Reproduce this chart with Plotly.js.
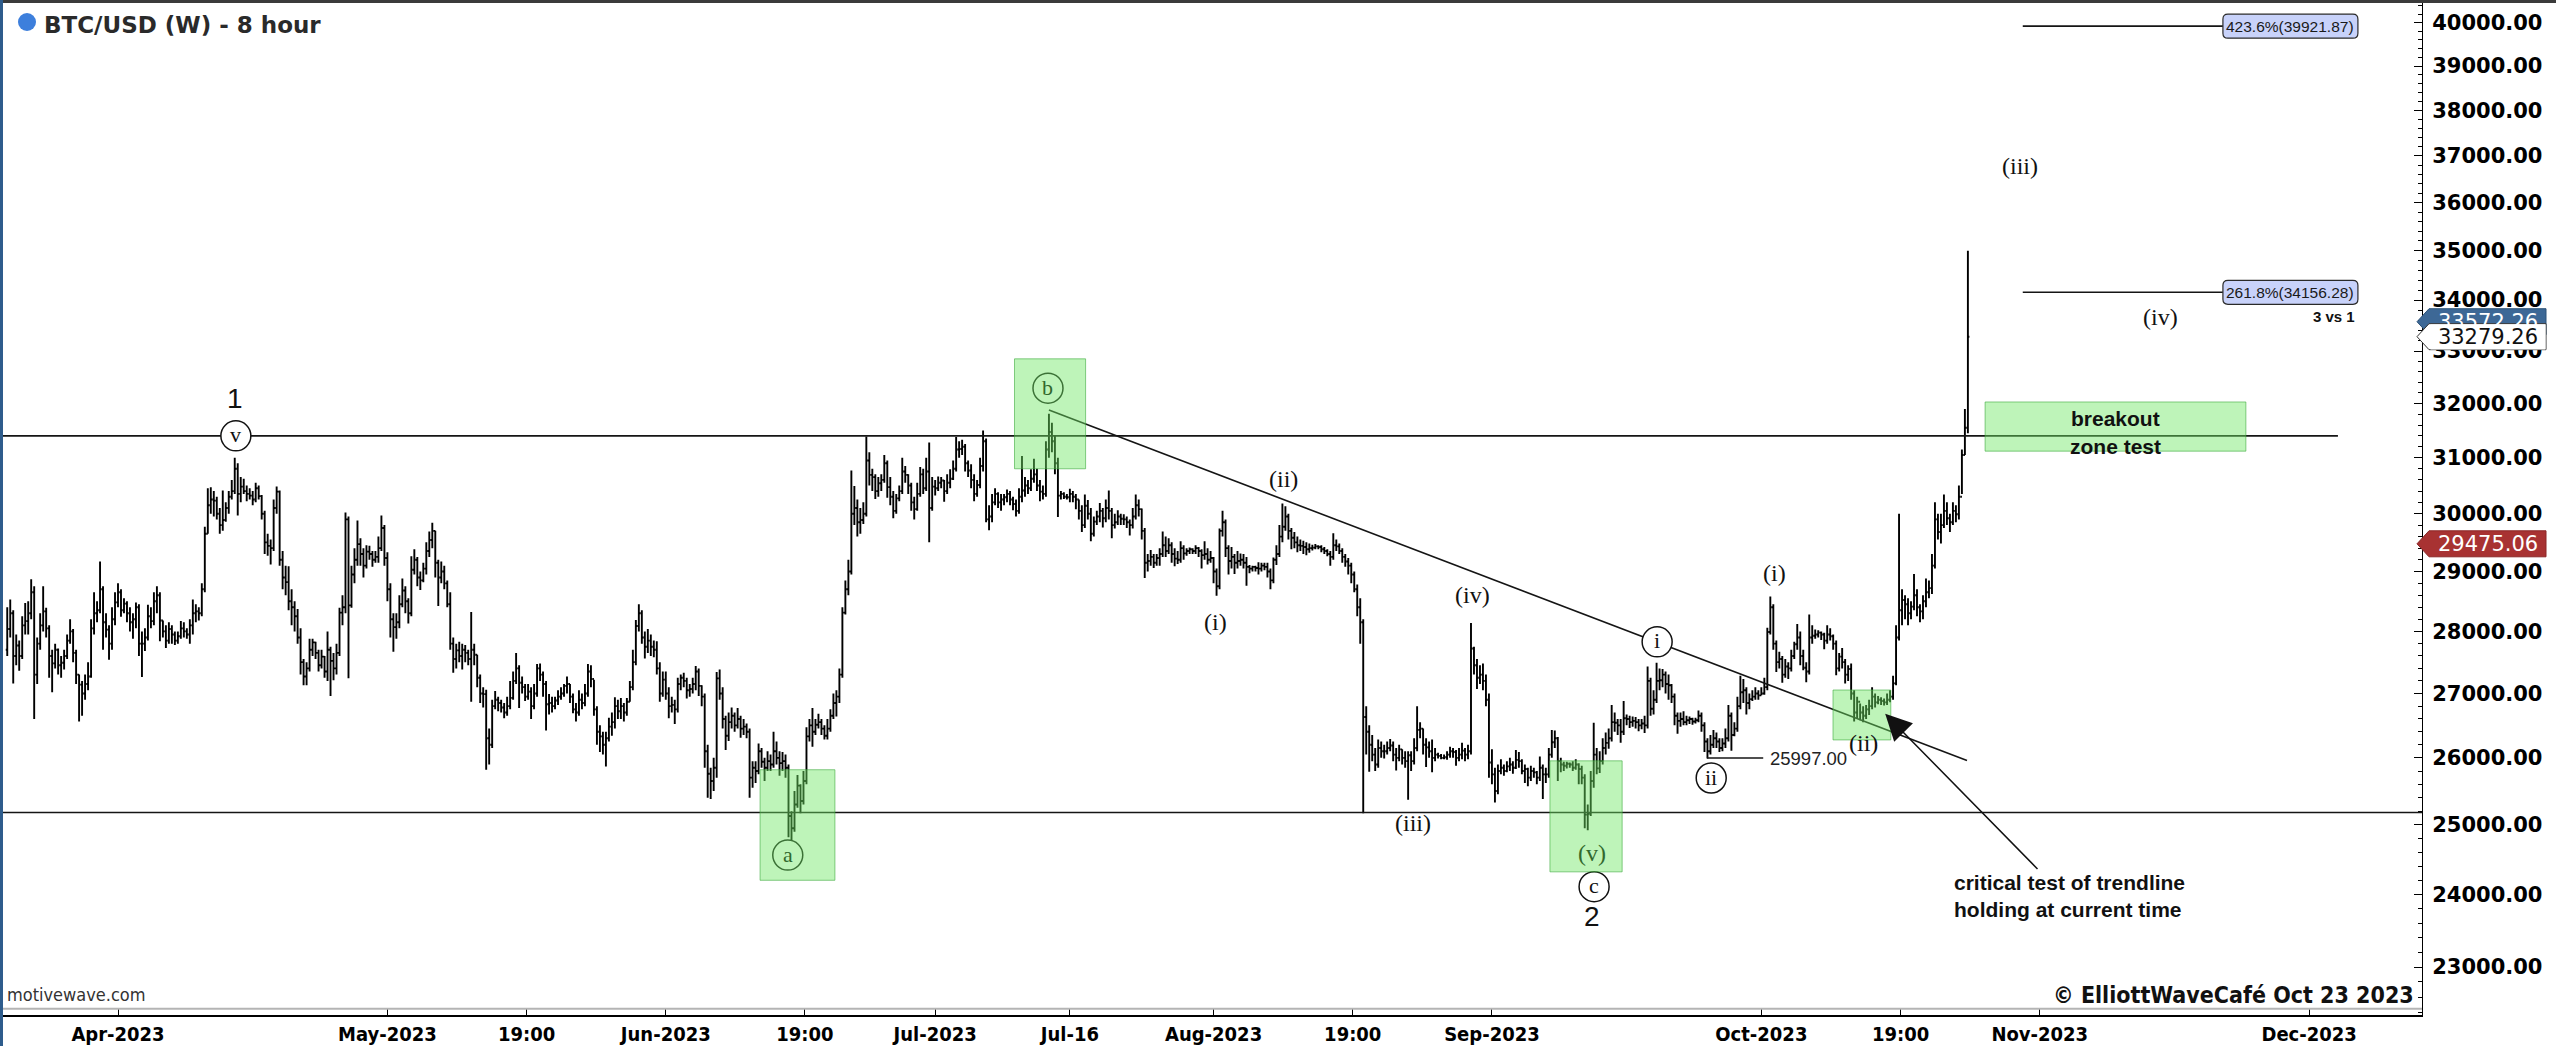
<!DOCTYPE html>
<html><head><meta charset="utf-8">
<script src="https://cdn.plot.ly/plotly-3.0.1.min.js"></script>
<style>html,body{margin:0;padding:0;background:#fff;overflow:hidden}#chart{width:2556px;height:1046px}</style>
</head><body><div id="chart"></div>
<script>
// ---------- DATA (BTC/USD, 8-hour bars) ----------
const firstBarTime = '2023-03-19T16:00:00Z';
const barHours = 8;
const firstOpen = 27700;
const closes = [
28040,
// Mar 20-31
28300,27600,27770, 27600,28100,28170, 28300,28650,27300, 27800,28100,28330, 28050,27600,27480, 27700,27450,27490,
27600,27850,28000, 27650,27300,27140, 27000,27150,27270, 28050,28300,28350, 28700,28150,28030, 27800,28200,28480,
// Apr
28650,28350,28460, 28300,28150,28200, 28400,27800,27800, 27900,28250,28170, 28500,28600,28180, 28000,27850,28040,
27950,27850,27920, 28050,28000,27950, 28100,28300,28330, 28300,28700,29650, 30150,30250,30230, 30000,29800,29890,
30100,30300,30400, 30800,30350,30480, 30400,30350,30320, 30250,30450,30310, 30000,29500,29440, 29400,30100,30390,
29200,28900,28820, 28500,28400,28250, 27900,27500,27270, 27400,27700,27820, 27650,27450,27590, 27350,27700,27520,
27400,27650,28310, 28400,29900,28430, 28950,29200,29470, 29300,29100,29340, 29300,29200,29250, 29400,29750,29230,
// May
28700,28200,28070, 28150,28450,28680, 28500,28300,29030, 29200,28900,28850, 29050,29350,29540, 29700,29150,28900,
29000,28800,28450, 27800,27550,27690, 27600,27700,27650, 27550,27700,27620, 27250,27000,26990, 26300,26200,26800,
26900,26850,26780, 26700,26800,26930, 27200,27400,27170, 27100,26950,27030, 26800,27000,27400, 27300,27150,26830,
26850,26800,26890, 26950,27000,27120, 27150,26950,26750, 26700,26900,26850, 27000,27350,27230, 26750,26400,26330,
26200,26300,26480, 26550,26800,26720, 26800,26700,26870, 27100,27500,28090, 28300,27900,27750, 27850,27750,27700,
27400,27000,27220,
// Jun
27000,26800,26820, 26750,27150,27250, 27200,27050,27070, 27150,27350,27120, 26950,26100,25760, 25650,25850,27240,
27000,26600,26340, 26550,26650,26500, 26600,26450,26480, 26400,25700,25850, 25800,26100,25940, 25850,25950,25900,
26100,26000,25920, 25950,25850,25130, 24950,25300,25580, 25350,25650,26330, 26500,26400,26510, 26550,26450,26340,
26450,26650,26850, 26950,27300,28310, 28700,29000,30000, 30100,29850,29890, 30000,30950,30690, 30650,30400,30540,
30600,30900,30470, 30300,30050,30270, 30400,30750,30690, 30500,30200,30080, 30350,30700,30450, 30750,30100,30480,
// Jul
30450,30550,30590, 30400,30550,30620, 30800,31150,31160, 31200,30900,30770, 30600,30350,30510, 30850,31300,29900,
29950,30200,30350, 30200,30250,30290, 30350,30250,30170, 30050,30300,30410, 30500,30450,30620, 30700,30500,30390,
30350,31150,31470, 31300,30900,30320, 30350,30300,30290, 30350,30300,30250, 30050,29800,30140, 30000,29650,29860,
29950,30050,29920, 30100,30050,29800, 29850,29950,29910, 29900,29850,29800, 29950,30150,30080, 29700,29150,29180,
29250,29150,29230, 29300,29450,29350, 29450,29300,29220, 29200,29400,29310, 29350,29380,29350, 29400,29350,29280,
29300,29200,29230,
// Aug
29000,28750,29700, 29850,29400,29180, 29250,29150,29180, 29200,29150,29080, 29050,29080,29060, 29050,29100,29080,
29000,28850,29200, 29300,29600,29770, 29950,29700,29580, 29500,29450,29440, 29420,29380,29400, 29410,29430,29420,
29380,29350,29300, 29250,29450,29430, 29350,29250,29170, 29100,28950,28700, 28400,28150,26630, 26400,26200,26050,
25900,26150,26100, 26100,26150,26190, 26050,26000,26130, 26000,25950,26040, 25950,26150,26430, 26450,26200,26160,
26100,26000,26050, 26030,26000,26010, 26050,26100,26090, 26000,26050,26110, 26050,26100,27720, 27450,27250,27300,
27200,26900,25930,
// Sep
25750,25500,25800, 25850,25800,25870, 25900,25850,25970, 25950,25800,25830, 25700,25800,25780, 25700,25850,25750,
25750,26050,26240, 26300,25950,25900, 25880,25910,25900, 25850,25900,25830, 25700,25150,25160, 25650,26050,25840,
25950,26150,26230, 26300,26550,26540, 26500,26400,26610, 26600,26550,26570, 26550,26500,26530, 26500,27200,26760,
26900,27200,27210, 27300,27150,27130, 26950,26650,26570, 26600,26550,26580, 26600,26560,26580, 26650,26500,26250,
26100,26200,26300, 26250,26150,26220, 26300,26650,26350, 26450,26800,27020, 27050,26850,26910, 26950,27000,26970,
// Oct
27000,27100,27990, 28400,27800,27500, 27550,27300,27430, 27400,27600,27790, 27900,27600,27410, 27350,27900,27930,
27950,27980,27950, 27850,27950,27920, 27800,27400,27590, 27500,27300,27390, 27000,26700,26870, 26700,26650,26750,
26800,26950,26860, 26900,26880,26860, 26900,26950,27160, 27900,28350,28520, 28450,28300,28410, 28600,28400,28330,
28500,28650,28720, 29100,29900,29680, 29800,30050,29920, 29850,30050,29990, 30300,31050,31550,
33279.26
];
const highs = [
28400,
// Mar 20-31
28530,28350,27950, 27850,28250,28470, 28500,28870,28750, 27900,28300,28750, 28390,28100,27700, 27800,27720,27600,
27700,27950,28200, 28040,27700,27300, 27200,27300,27500, 28200,28650,28500, 29170,28750,28300, 28100,28400,28650,
// Apr
28800,28700,28550, 28500,28400,28300, 28480,28450,28000, 28050,28440,28400, 28650,28750,28650, 28180,28100,28150,
28100,28000,28000, 28170,28150,28050, 28200,28530,28450, 28400,28800,29770, 30450,30470,30400, 30300,30100,30410,
30200,30400,30600, 31000,30900,30650, 30620,30500,30450, 30400,30550,30500, 30330,30050,29650, 29550,30250,30480,
30410,29350,29100, 29090,28700,28500, 28370,28050,27550, 27500,27880,27880, 27830,27700,27700, 27600,28000,27750,
27650,27800,28390, 28600,30020,29950, 29100,29400,29880, 29570,29400,29450, 29440,29350,29350, 29600,29970,29800,
// May
29330,28800,28300, 28300,28600,28880, 28750,28550,29260, 29380,29250,29000, 29150,29500,29690, 29840,29700,29200,
29170,29100,28850, 28650,27900,27800, 27830,27800,27780, 27700,28320,27800, 27620,27300,27100, 27060,26450,26900,
27040,26950,26900, 26850,26950,27200, 27350,27650,27450, 27270,27150,27150, 27100,27150,27470, 27480,27350,27200,
26990,26950,26950, 27050,27100,27150, 27270,27150,27000, 26850,27050,27000, 27150,27470,27450, 27220,26800,26500,
26400,26400,26620, 26700,26940,26900, 26930,26850,26930, 27200,27700,28190, 28450,28350,28000, 28040,27950,27850,
27840,27500,27350,
// Jun
27350,27100,26950, 26900,27250,27300, 27330,27250,27150, 27250,27440,27400, 27130,27000,26200, 25850,26000,27340,
27380,27100,26650, 26700,26780,26700, 26770,26650,26600, 26530,26450,25950, 25950,26220,26150, 26000,26100,26050,
26400,26250,26100, 26090,26050,25900, 25200,25500,25740, 25600,25800,26470, 26600,26770,26600, 26680,26600,26500,
26600,26750,27000, 27050,27400,28400, 28850,29200,30770, 30490,30250,30100, 30200,31390,31100, 30800,30700,30650,
30700,31050,30950, 30650,30400,30350, 30500,31000,30850, 30700,30550,30300, 30550,30830,30800, 31000,31280,30650,
// Jul
30600,30660,30650, 30600,30700,30790, 30950,31380,31300, 31330,31250,30950, 30880,30700,30600, 31000,31500,31350,
30150,30350,30450, 30380,30350,30350, 30430,30400,30300, 30250,30450,31030, 30650,30600,30790, 30980,30800,30600,
30500,31300,31810, 31640,31400,31000, 30400,30380,30350, 30440,30400,30350, 30250,30150,30340, 30240,30100,29950,
30050,30190,30100, 30250,30410,30100, 30000,30060,30000, 29990,29950,29900, 30100,30340,30250, 30090,29750,29300,
29370,29300,29300, 29400,29690,29600, 29570,29500,29400, 29350,29520,29450, 29400,29410,29400, 29450,29420,29380,
29520,29400,29350,
// Aug
29250,29050,29740, 30050,29900,29450, 29420,29300,29350, 29310,29300,29250, 29110,29100,29100, 29160,29150,29150,
29150,29050,29240, 29450,29800,30180, 30130,30000,29750, 29680,29600,29550, 29530,29500,29480, 29460,29470,29450,
29450,29420,29380, 29350,29660,29550, 29480,29400,29300, 29230,29150,29000, 28780,28550,28200, 26800,26500,26350,
26150,26280,26250, 26200,26250,26290, 26250,26150,26200, 26130,26100,26100, 26100,26300,26800, 26550,26450,26300,
26250,26280,26150, 26080,26060,26050, 26100,26170,26150, 26120,26150,26230, 26150,26200,28140, 27750,27550,27450,
27480,27300,27000,
// Sep
26130,25850,25900, 25980,25900,25950, 26000,25950,26120, 26090,25980,25900, 25850,25880,25850, 25800,26020,25900,
25850,26150,26430, 26420,26320,26000, 25940,25940,25930, 25950,25980,25920, 25880,25750,25300, 25800,26540,26150,
26100,26300,26390, 26450,26820,26700, 26600,26600,26880, 26670,26650,26640, 26630,26600,26600, 26650,27430,27250,
27050,27490,27400, 27390,27350,27300, 27150,27000,26700, 26700,26720,26650, 26640,26620,26620, 26730,26700,26550,
26300,26350,26430, 26390,26300,26300, 26450,26820,26700, 26550,26950,27280, 27230,27100,27000, 27050,27100,27050,
// Oct
27100,27250,28060, 28580,28450,27850, 27670,27600,27550, 27500,27700,27830, 28120,28000,27700, 27500,28280,28100,
28030,28020,28000, 27980,28100,28050, 27950,27850,27650, 27730,27550,27450, 27480,27050,26950, 26840,26800,26820,
26900,27100,27000, 26960,26940,26920, 27000,27050,27280, 28100,30000,28700, 28600,28550,28500, 28960,28700,28450,
28600,28880,28850, 29300,30200,30000, 30000,30340,30200, 30000,30200,30150, 30500,31150,31900,
35000
];
const lows = [
27600,
// Mar 20-31
27900,27160,27450, 27360,27550,27950, 27950,28200,26600, 27150,27700,28000, 27900,27250,27020, 27400,27300,27250,
27380,27550,27800, 27500,27150,26560, 26650,26900,27050, 27250,27950,28150, 28300,27700,27900, 27540,27700,28100,
// Apr
28400,28240,28300, 28150,28000,27880, 28050,27600,27260, 27680,27850,28050, 28100,28300,27840, 27900,27730,27800,
27800,27780,27800, 27880,27900,27880, 27800,27950,28150, 28180,28250,28650, 29650,30000,29950, 29900,29650,29700,
29860,30000,30250, 30350,29970,30200, 30350,30220,30250, 30150,30200,30250, 29900,29300,29270, 29120,29350,30000,
29100,28700,28600, 28350,28100,28000, 27800,27300,27130, 27130,27350,27600, 27550,27350,27400, 27250,27200,26960,
27210,27300,27600, 28100,28300,27240, 28390,28800,29100, 29100,28900,29050, 29200,29080,29150, 29150,29350,29100,
// May
28500,27900,27670, 27880,28050,28400, 28300,28130,28250, 28950,28750,28690, 28820,28950,29250, 29400,28900,28420,
28800,28700,28400, 27700,27330,27400, 27500,27380,27500, 27450,26870,27450, 27100,26850,26780, 25820,25900,26150,
26750,26720,26700, 26610,26650,26750, 26900,27150,26770, 27000,26880,26900, 26600,26750,26950, 27200,26950,26420,
26670,26700,26750, 26820,26900,26950, 27000,26850,26690, 26560,26650,26750, 26800,26950,27100, 26650,26200,26090,
26050,25870,26250, 26340,26450,26600, 26600,26560,26650, 26870,27050,27450, 28000,27800,27560, 27650,27600,27580,
27300,26870,26950,
// Jun
26900,26610,26700, 26520,26700,27050, 27100,26920,26950, 27000,27050,26960, 26800,25850,25400, 25380,25500,25700,
26900,26450,26120, 26260,26450,26400, 26450,26310,26350, 26300,25400,25550, 25620,25750,25850, 25650,25800,25800,
25850,25900,25730, 25800,25700,24820, 24770,24900,25250, 25170,25300,25600, 26250,26170,26350, 26450,26350,26280,
26280,26400,26600, 26640,26850,27250, 28280,28600,28950, 29800,29600,29650, 29820,29950,30500, 30400,30260,30300,
30400,30550,30280, 30150,29920,30000, 30220,30350,30550, 30350,30050,29900, 30050,30300,30350, 30400,29500,30050,
// Jul
30320,30400,30450, 30210,30350,30450, 30600,30750,31000, 31050,30750,30650, 30450,30220,30300, 30450,30750,29850,
29710,29850,30150, 30100,30050,30150, 30200,30150,30060, 29950,30000,30200, 30300,30350,30400, 30550,30400,30220,
30250,30300,31000, 31100,30700,29940, 30250,30260,30250, 30200,30200,30080, 29900,29680,29750, 29900,29520,29600,
29800,29850,29760, 29850,29900,29570, 29740,29800,29800, 29800,29750,29620, 29740,29900,29950, 29550,28890,29000,
29100,29060,29100, 29100,29250,29250, 29300,29150,29090, 29130,29150,29200, 29270,29300,29300, 29300,29250,29050,
29200,29120,29150,
// Aug
28800,28590,28700, 29600,29250,28950, 29050,28960,29050, 29100,29050,28760, 28970,29000,29000, 28950,29000,29020,
28900,28700,28800, 29110,29250,29500, 29700,29550,29380, 29400,29330,29350, 29300,29280,29320, 29360,29380,29380,
29330,29300,29260, 29100,29200,29350, 29300,29150,29080, 28950,28800,28650, 28250,27800,25170, 26050,25790,25950,
25800,25850,26000, 25990,26050,26100, 25950,25810,25950, 25900,25850,25370, 25800,25900,26100, 26300,26050,25860,
26000,25780,25950, 25990,25980,25980, 25970,26000,26000, 25880,25950,25980, 25950,25980,26050, 27300,27070,27150,
27050,26800,25700,
// Sep
25600,25330,25450, 25750,25730,25780, 25800,25760,25830, 25850,25750,25620, 25570,25650,25700, 25600,25650,25380,
25620,25700,26000, 26150,25650,25780, 25800,25840,25850, 25800,25820,25600, 25600,24950,24920, 25130,25550,25750,
25770,25900,26050, 26140,26250,26400, 26350,26230,26350, 26500,26460,26480, 26450,26410,26440, 26380,26450,26650,
26670,26850,27050, 27100,27000,26900, 26850,26500,26370, 26480,26500,26500, 26520,26510,26530, 26550,26400,26090,
25990,26050,26150, 26150,26090,26100, 26150,26250,26110, 26330,26400,26750, 26850,26670,26750, 26880,26900,26900,
// Oct
26970,26980,27050, 27950,27700,27340, 27400,27170,27250, 27230,27350,27550, 27700,27450,27370, 27180,27300,27800,
27880,27900,27860, 27710,27800,27850, 27700,27290,27350, 27400,27160,27200, 26900,26560,26600, 26580,26550,26600,
26660,26750,26780, 26830,26820,26810, 26820,26860,26900, 27130,27850,28100, 28200,28100,28200, 28350,28250,28150,
28200,28400,28550, 28620,29050,29550, 29480,29750,29800, 29680,29800,29850, 29900,30350,31050,
31450
];
// each bar opens where the previous one closed
const opens = [firstOpen].concat(closes.slice(0, -1));

// axis ticks
const xTickDates = ['2023-04-01','2023-05-01','2023-05-16 12:00','2023-06-01','2023-06-16 12:00','2023-07-01','2023-07-16',
  '2023-08-01','2023-08-16 12:00','2023-09-01','2023-10-01','2023-10-16 12:00','2023-11-01','2023-12-01'];
const xTickLabels = ['Apr-2023','May-2023','19:00','Jun-2023','19:00','Jul-2023','Jul-16','Aug-2023','19:00','Sep-2023',
  'Oct-2023','19:00','Nov-2023','Dec-2023'];
const priceTicks = [23000,24000,25000,26000,27000,28000,29000,30000,31000,32000,33000,34000,35000,36000,37000,38000,39000,40000];

// drawn levels / annotation values
const resistanceLevel = 31400;
const supportLevel = 25180;
const trendline = {x: ['2023-07-13 16:00', '2023-10-23 21:36'], y: [31880, 25960]};
const fibLevels = [{pct: '423.6%', price: 39921.87}, {pct: '261.8%', price: 34156.28}];
const swingLow = 25997.00;
const lastPrice = 33279.26, bluePrice = 33572.26, redPrice = 29475.06;

// ---------- BUILD ----------
if (closes.length !== highs.length || closes.length !== lows.length) {
  throw new Error('length mismatch ' + closes.length + ' ' + highs.length + ' ' + lows.length);
}
const t0 = Date.parse(firstBarTime);
const times = closes.map((_, i) => new Date(t0 + i * barHours * 3600e3).toISOString().slice(0, 19).replace('T', ' '));

const L = v => Math.log10(v);
const SERIF = 'Liberation Serif, DejaVu Serif, serif';
const SANS = 'Liberation Sans, Arial, sans-serif';
const NARROW = 'Liberation Sans Narrow, DejaVu Sans Condensed, Arial Narrow, sans-serif';
const BOXGREEN = 'rgba(110,230,100,0.45)';
const BOXLINE = 'rgba(60,170,60,0.6)';
const TINT = '#32682d';

const trace = {
  type: 'ohlc', x: times, open: opens, high: highs, low: lows, close: closes,
  increasing: {line: {color: '#000', width: 1.9}},
  decreasing: {line: {color: '#000', width: 1.9}},
  tickwidth: 0.5, hoverinfo: 'skip', showlegend: false
};

const shapes = [];
const annotations = [];

// horizontal levels and trendline
const LINE = {color: '#151515', width: 1.6};
shapes.push({type: 'line', xref: 'x', yref: 'y', x0: '2023-03-19 04:39', x1: '2023-12-04 05:00',
  y0: resistanceLevel, y1: resistanceLevel, line: LINE, layer: 'above'});
shapes.push({type: 'line', xref: 'paper', yref: 'y', x0: 0, x1: 1, y0: supportLevel, y1: supportLevel, line: LINE, layer: 'above'});
shapes.push({type: 'line', xref: 'x', yref: 'y', x0: trendline.x[0], x1: trendline.x[1], y0: trendline.y[0], y1: trendline.y[1],
  line: LINE, layer: 'above'});
shapes.push({type: 'line', xref: 'x', yref: 'y', x0: '2023-09-24 23:00', x1: '2023-10-01 05:00', y0: swingLow, y1: swingLow,
  line: LINE, layer: 'above'});
fibLevels.forEach(f => {
  shapes.push({type: 'line', xref: 'x', yref: 'y', x0: '2023-10-30 02:40', x1: '2023-11-21 09:36', y0: f.price, y1: f.price,
    line: LINE, layer: 'above'});
});

// circled wave labels (circle drawn as a pixel-sized bezier path)
const R = 15, K = 8.28;
const circlePath = `M ${R} 0 C ${R} ${K} ${K} ${R} 0 ${R} C ${-K} ${R} ${-R} ${K} ${-R} 0 C ${-R} ${-K} ${-K} ${-R} 0 ${-R} C ${K} ${-R} ${R} ${-K} ${R} 0 Z`;
const circled = [
  {x: '2023-04-14 03:00', p: 31400, t: 'v', c: '#111'},
  {x: '2023-06-14 14:00', p: 24560, t: 'a', c: TINT},
  {x: '2023-07-13 13:30', p: 32290, t: 'b', c: TINT},
  {x: '2023-09-12 09:00', p: 24110, t: 'c', c: '#111'},
  {x: '2023-09-19 09:30', p: 27830, t: 'i', c: '#111'},
  {x: '2023-09-25 10:00', p: 25695, t: 'ii', c: '#111'}
];
circled.forEach(o => {
  shapes.push({type: 'path', xref: 'x', yref: 'y', xsizemode: 'pixel', ysizemode: 'pixel', xanchor: o.x, yanchor: o.p,
    path: circlePath, fillcolor: '#fff', line: {color: '#111', width: 1.5}, layer: 'above'});
  annotations.push({xref: 'x', yref: 'y', x: o.x, y: L(o.p), text: o.t, showarrow: false, yshift: 1,
    font: {family: SERIF, size: 22, color: o.c}});
});

// green highlight boxes
const boxes = [
  {x0: '2023-06-11 12:00', x1: '2023-06-19 20:00', y0: 24200, y1: 25820},
  {x0: '2023-07-09 20:00', x1: '2023-07-17 18:00', y0: 30800, y1: 32850},
  {x0: '2023-09-07 11:00', x1: '2023-09-15 12:00', y0: 24320, y1: 25955},
  {x0: '2023-10-08 23:30', x1: '2023-10-15 10:00', y0: 26275, y1: 27055},
  {x0: '2023-10-25 22:00', x1: '2023-11-23 23:00', y0: 31120, y1: 32030}
];
boxes.forEach(b => shapes.push({type: 'rect', xref: 'x', yref: 'y', x0: b.x0, x1: b.x1, y0: b.y0, y1: b.y1,
  fillcolor: BOXGREEN, line: {color: BOXLINE, width: 1}, layer: 'above'}));

// fib label boxes (rounded)
const rr = 'M 5 12 L 130 12 Q 135 12 135 7 L 135 -7 Q 135 -12 130 -12 L 5 -12 Q 0 -12 0 -7 L 0 7 Q 0 12 5 12 Z';
fibLevels.forEach(f => {
  shapes.push({type: 'path', xref: 'x', yref: 'y', xsizemode: 'pixel', ysizemode: 'pixel', xanchor: '2023-11-21 09:36',
    yanchor: f.price, path: rr, fillcolor: '#c8d2fa', line: {color: '#2a2a2a', width: 1.2}, layer: 'above'});
  annotations.push({xref: 'x', yref: 'y', x: '2023-11-21 09:36', y: L(f.price), xanchor: 'center', xshift: 67.5,
    text: f.pct + '(' + f.price.toFixed(2) + ')', showarrow: false, font: {family: SANS, size: 15.5, color: '#1a1a1a'}});
});

// price tags on the axis
const tagPath = 'M -5 0 L 7 13 L 124 13 L 124 -13 L 7 -13 Z';
shapes.push({type: 'path', xref: 'paper', yref: 'y', xsizemode: 'pixel', ysizemode: 'pixel', xanchor: 1, yanchor: bluePrice,
  path: tagPath, fillcolor: '#3d6896', line: {color: '#2c5278', width: 1}, layer: 'above'});
shapes.push({type: 'path', xref: 'paper', yref: 'y', xsizemode: 'pixel', ysizemode: 'pixel', xanchor: 1, yanchor: lastPrice,
  path: tagPath, fillcolor: '#ffffff', line: {color: '#333', width: 1}, layer: 'above'});
shapes.push({type: 'path', xref: 'paper', yref: 'y', xsizemode: 'pixel', ysizemode: 'pixel', xanchor: 1, yanchor: redPrice,
  path: tagPath, fillcolor: '#a83232', line: {color: '#8a2626', width: 1}, layer: 'above'});

// frame decorations
shapes.push({type: 'rect', xref: 'paper', yref: 'paper', x0: -0.01, x1: 1.1, y0: 1, y1: 1.004,
  fillcolor: '#3b3b3b', line: {width: 0}, layer: 'above'});
shapes.push({type: 'rect', xref: 'paper', yref: 'paper', x0: -0.0013, x1: 0, y0: -0.031, y1: 1.004,
  fillcolor: '#2e5c8c', line: {width: 0}, layer: 'above'});
shapes.push({type: 'line', xref: 'paper', yref: 'paper', x0: 0, x1: 1, y0: 0.0062, y1: 0.0062,
  line: {color: '#b4b4b4', width: 2}, layer: 'above'});
shapes.push({type: 'circle', xref: 'paper', yref: 'paper', xsizemode: 'pixel', ysizemode: 'pixel', xanchor: 0, yanchor: 1,
  x0: 15, x1: 33, y0: -28, y1: -10, fillcolor: '#3d7fdc', line: {width: 0}, layer: 'above'});

// wave labels
const waveLabels = [
  {x: '2023-04-14 01:00', p: 32100, t: '1', sans: true},
  {x: '2023-09-12 03:00', p: 23690, t: '2', sans: true},
  {x: '2023-08-01 05:00', p: 28150, t: '(i)'},
  {x: '2023-08-08 20:00', p: 30620, t: '(ii)'},
  {x: '2023-08-23 05:00', p: 25030, t: '(iii)'},
  {x: '2023-08-29 19:00', p: 28600, t: '(iv)'},
  {x: '2023-09-12 03:00', p: 24590, t: '(v)', c: TINT},
  {x: '2023-10-02 12:00', p: 28976, t: '(i)'},
  {x: '2023-10-12 10:00', p: 26230, t: '(ii)'},
  {x: '2023-10-29 19:00', p: 36780, t: '(iii)'},
  {x: '2023-11-14 10:00', p: 33663, t: '(iv)'}
];
waveLabels.forEach(w => annotations.push({xref: 'x', yref: 'y', x: w.x, y: L(w.p), text: w.t, showarrow: false,
  font: w.sans ? {family: SANS, size: 28, color: '#111'} : {family: SERIF, size: 24, color: w.c || '#111'}}));

// texts
annotations.push({xref: 'x', yref: 'y', x: '2023-11-09 10:00', y: L(31712), text: 'breakout', showarrow: false,
  font: {family: SANS, size: 21, color: '#111', weight: 'bold'}});
annotations.push({xref: 'x', yref: 'y', x: '2023-11-09 10:00', y: L(31196), text: 'zone test', showarrow: false,
  font: {family: SANS, size: 21, color: '#111', weight: 'bold'}});
annotations.push({xref: 'x', yref: 'y', x: '2023-11-21 09:36', y: L(33683), xanchor: 'right', xshift: 134,
  text: '3 vs 1', showarrow: false, font: {family: SANS, size: 15, color: '#111', weight: 'bold'}});
annotations.push({xref: 'x', yref: 'y', x: '2023-10-01 17:00', y: L(swingLow), xanchor: 'left',
  text: swingLow.toFixed(2), showarrow: false, font: {family: SANS, size: 18.5, color: '#222'}});
annotations.push({xref: 'x', yref: 'y', x: '2023-10-22 05:00', y: L(23980), xanchor: 'left', align: 'left',
  text: 'critical test of trendline<br>holding at current time', showarrow: false,
  font: {family: SANS, size: 21, color: '#111', weight: 'bold'}});
annotations.push({xref: 'x', yref: 'y', x: '2023-10-14 19:00', y: L(26680), axref: 'x', ayref: 'y',
  ax: '2023-10-31 22:00', ay: L(24340), text: '', showarrow: true, arrowhead: 2, arrowsize: 3.5, arrowwidth: 1.5,
  arrowcolor: '#111', standoff: 0});

// tag texts (blue first, then the white tag covering most of it)
annotations.push({xref: 'paper', yref: 'y', x: 1, y: L(bluePrice), xanchor: 'center', xshift: 66, text: bluePrice.toFixed(2),
  showarrow: false, font: {family: 'DejaVu Sans, sans-serif', size: 21, color: '#fff'}});
annotations.push({xref: 'paper', yref: 'y', x: 1, y: L(lastPrice), xanchor: 'center', xshift: 66, text: lastPrice.toFixed(2),
  showarrow: false, bgcolor: '#fff', width: 114, height: 24, borderpad: 0,
  font: {family: 'DejaVu Sans, sans-serif', size: 21, color: '#111'}});
annotations.push({xref: 'paper', yref: 'y', x: 1, y: L(redPrice), xanchor: 'center', xshift: 66, text: redPrice.toFixed(2),
  showarrow: false, font: {family: 'DejaVu Sans, sans-serif', size: 21, color: '#fff'}});

// title and credits
annotations.push({xref: 'paper', yref: 'paper', x: 0, y: 1, xanchor: 'left', yanchor: 'middle', xshift: 39, yshift: -22,
  text: 'BTC/USD (W) - 8 hour', showarrow: false, font: {family: 'DejaVu Sans, Verdana, sans-serif', size: 23, color: '#2a2a2a', weight: 'bold'}});
annotations.push({xref: 'paper', yref: 'paper', x: 0, y: 0.0198, xanchor: 'left', yanchor: 'middle', xshift: 2,
  text: 'motivewave.com', showarrow: false, font: {family: NARROW, size: 18, color: '#333'}});
annotations.push({xref: 'paper', yref: 'paper', x: 1, y: 0.0198, xanchor: 'right', yanchor: 'middle', xshift: -6,
  text: '© ElliottWaveCafé Oct 23 2023', showarrow: false, font: {family: NARROW, size: 23, color: '#111', weight: 'bold'}});

const minorTicks = [];
for (let v = 22400; v <= 40400; v += 200) if (v % 1000 !== 0) minorTicks.push(v);

const layout = {
  width: 2556, height: 1046,
  margin: {l: 3, r: 134, t: 3, b: 31, pad: 0},
  paper_bgcolor: '#fff', plot_bgcolor: '#fff',
  showlegend: false, hovermode: false,
  font: {family: SANS},
  xaxis: {
    type: 'date', range: ['2023-03-19 04:39', '2023-12-13 13:40'], autorange: false,
    rangeslider: {visible: false}, showgrid: false, zeroline: false,
    showline: true, linecolor: '#000', linewidth: 2,
    ticks: 'inside', ticklen: 6, tickcolor: '#000', tickwidth: 1,
    tickmode: 'array', tickvals: xTickDates, ticktext: xTickLabels,
    tickfont: {family: NARROW, size: 20, color: '#000', weight: 'bold'},
    ticklabelstandoff: 0, automargin: false, fixedrange: true
  },
  yaxis: {
    type: 'log', side: 'right', range: [4.34953, 4.60710], autorange: false,
    showgrid: false, zeroline: false, showline: true, linecolor: '#000', linewidth: 1,
    ticks: 'inside', ticklen: 8, tickcolor: '#000', tickwidth: 1,
    tickmode: 'array', tickvals: priceTicks, ticktext: priceTicks.map(v => v.toFixed(2)),
    minor: {tickmode: 'array', tickvals: minorTicks, ticks: 'inside', ticklen: 4, tickcolor: '#000', showgrid: false},
    tickfont: {family: 'DejaVu Sans, Verdana, sans-serif', size: 21, color: '#000', weight: 'bold'},
    ticklabelstandoff: 5, automargin: false, fixedrange: true
  },
  shapes: shapes,
  annotations: annotations
};

Plotly.newPlot('chart', [trace], layout, {staticPlot: true, displayModeBar: false});
</script>
</body></html>
